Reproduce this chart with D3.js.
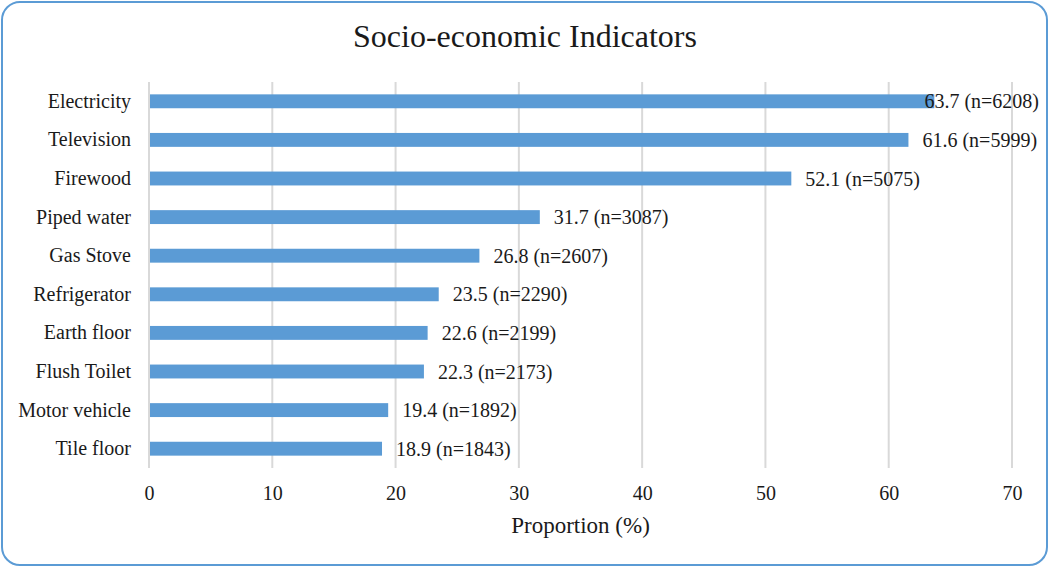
<!DOCTYPE html>
<html>
<head>
<meta charset="utf-8">
<script src="https://cdn.jsdelivr.net/npm/d3@7"></script>
<style>
  html, body { margin: 0; padding: 0; background: #fff; }
  svg { display: block; }
  text { font-family: 'Liberation Serif', 'Times New Roman', Times, serif; fill: #1a1a1a; }
</style>
</head>
<body>
<svg id="chart" width="1050" height="568"></svg>
<script>
const categories = ["Electricity", "Television", "Firewood", "Piped water", "Gas Stove",
                    "Refrigerator", "Earth floor", "Flush Toilet", "Motor vehicle", "Tile floor"];
const proportions = [63.7, 61.6, 52.1, 31.7, 26.8, 23.5, 22.6, 22.3, 19.4, 18.9];
const counts = [6208, 5999, 5075, 3087, 2607, 2290, 2199, 2173, 1892, 1843];
const xTicks = [0, 10, 20, 30, 40, 50, 60, 70];
const titleText = "Socio-economic Indicators";
const xAxisTitle = "Proportion (%)";

const W = 1050, H = 568;
const margin = { top: 82, right: 38, bottom: 100, left: 149 };
const svg = d3.select("#chart");

svg.append("rect")
  .attr("x", 2).attr("y", 2)
  .attr("width", W - 5).attr("height", H - 5)
  .attr("rx", 18).attr("ry", 18)
  .attr("fill", "#fff")
  .attr("stroke", "#5b9bd5")
  .attr("stroke-width", 2);

const x = d3.scaleLinear().domain([0, 70]).range([margin.left, W - margin.right]);
const y = d3.scaleBand().domain(categories)
  .range([margin.top, H - margin.bottom])
  .paddingInner(0.64).paddingOuter(0.32);

svg.append("g").selectAll("line").data(xTicks).join("line")
  .attr("x1", d => x(d)).attr("x2", d => x(d))
  .attr("y1", margin.top).attr("y2", H - margin.bottom)
  .attr("stroke", "#d9d9d9").attr("stroke-width", 2);

const xAxis = d3.axisBottom(x).tickValues(xTicks).tickSize(0).tickPadding(0);
const gx = svg.append("g").attr("transform", `translate(0,${H - margin.bottom + 32})`).call(xAxis);
gx.select(".domain").remove();
gx.attr("font-family", null).attr("font-size", null);
gx.selectAll("text").style("font-size", "20px").attr("fill", "#1a1a1a").attr("dy", 0);

const yAxis = d3.axisLeft(y).tickSize(0).tickPadding(18);
const gy = svg.append("g").attr("transform", `translate(${margin.left},0)`).call(yAxis);
gy.select(".domain").remove();
gy.attr("font-family", null).attr("font-size", null);
gy.selectAll("text").style("font-size", "20px").attr("fill", "#1a1a1a");

const rows = categories.map((c, i) => ({ c, v: proportions[i], n: counts[i] }));
svg.append("g").selectAll("rect").data(rows).join("rect")
  .attr("x", x(0) + 1)
  .attr("y", d => y(d.c))
  .attr("width", d => x(d.v) - x(0) - 1)
  .attr("height", y.bandwidth())
  .attr("fill", "#5b9bd5");

const labels = svg.append("g").selectAll("text").data(rows).join("text")
  .attr("y", d => y(d.c) + y.bandwidth() / 2)
  .attr("dy", "0.35em")
  .style("font-size", "20px")
  .text(d => `${d.v.toFixed(1)} (n=${d.n})`);
labels.each(function(d) {
  const w = this.getComputedTextLength();
  const xs = Math.min(x(d.v) + 14, W - 11 - w);
  d3.select(this).attr("x", xs);
});

svg.append("text")
  .attr("x", W / 2).attr("y", 47)
  .attr("text-anchor", "middle")
  .style("font-size", "32px")
  .text(titleText);

svg.append("text")
  .attr("x", (x(0) + x(70)) / 2).attr("y", 533)
  .attr("text-anchor", "middle")
  .style("font-size", "23px")
  .text(xAxisTitle);
</script>
</body>
</html>
